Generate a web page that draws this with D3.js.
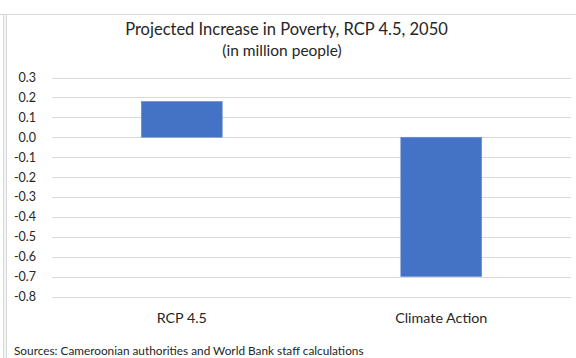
<!DOCTYPE html>
<html>
<head>
<meta charset="utf-8">
<script src="https://cdn.jsdelivr.net/npm/d3@7"></script>
<style>
  html, body { margin: 0; padding: 0; background: #fff; }
  svg { display: block; }
  text { font-family: Lato, "Noto Sans", sans-serif; fill: #262626; }
</style>
</head>
<body>
<svg id="chart" width="576" height="358"></svg>
<script>
// Projected increase in poverty (million people), RCP 4.5, 2050
const categories = ["RCP 4.5", "Climate Action"];
const values = [0.18, -0.70];
const yTicks = [0.3, 0.2, 0.1, 0.0, -0.1, -0.2, -0.3, -0.4, -0.5, -0.6, -0.7, -0.8];
const titleText = "Projected Increase in Poverty, RCP 4.5, 2050";
const subtitleText = "(in million people)";
const sourceText = "Sources: Cameroonian authorities and World Bank staff calculations";

const svg = d3.select("#chart");
const W = 576, H = 358;
const plot = { left: 52, right: 571, top: 77.5, bottom: 296.5 };

// frame lines
svg.append("line")
  .attr("x1", 0).attr("x2", W).attr("y1", 14.5).attr("y2", 14.5)
  .attr("stroke", "#d9d9d9").attr("stroke-width", 1);
svg.append("rect")
  .attr("x", 3.5).attr("y", 14.5).attr("width", 3).attr("height", H)
  .attr("fill", "#f4f4f4").attr("stroke", "#d9d9d9").attr("stroke-width", 1);

const x = d3.scaleBand()
  .domain(categories)
  .range([plot.left, plot.right])
  .paddingInner(0.688)
  .paddingOuter(0.344);

const y = d3.scaleLinear()
  .domain([-0.8, 0.3])
  .range([plot.bottom, plot.top]);

// gridlines
svg.append("g")
  .selectAll("line")
  .data(yTicks)
  .join("line")
  .attr("x1", plot.left).attr("x2", plot.right)
  .attr("y1", d => Math.round(y(d)) + 0.5).attr("y2", d => Math.round(y(d)) + 0.5)
  .attr("stroke", "#d9d9d9").attr("stroke-width", 1);

// y-axis labels (plain hyphen for negatives)
const fmt = d3.format(".1f");
const yAxis = d3.axisLeft(y).tickValues(yTicks)
  .tickFormat(d => fmt(d).replace("\u2212", "-"))
  .tickSize(0).tickPadding(0);
const gy = svg.append("g").attr("transform", "translate(36,0)").call(yAxis);
gy.select(".domain").remove();
gy.selectAll("text").attr("font-size", 12.5).style("font-family", "Lato, 'Noto Sans', sans-serif").attr("fill", "#262626");

// bars
svg.append("g")
  .selectAll("rect")
  .data(values)
  .join("rect")
  .attr("x", (d, i) => x(categories[i]))
  .attr("width", x.bandwidth())
  .attr("y", d => y(Math.max(0, d)))
  .attr("height", d => Math.abs(y(d) - y(0)))
  .attr("fill", "#4472c4")
  .attr("stroke", "#6f93d4").attr("stroke-width", 0.6);

// category labels
svg.append("g")
  .selectAll("text")
  .data(categories)
  .join("text")
  .attr("x", d => x(d) + x.bandwidth() / 2)
  .attr("y", 323)
  .attr("text-anchor", "middle")
  .attr("font-size", 14.3)
  .text(d => d);

// titles
svg.append("text")
  .attr("x", 286.5).attr("y", 35)
  .attr("text-anchor", "middle")
  .attr("font-size", 16.5)
  .text(titleText);
svg.append("text")
  .attr("x", 282).attr("y", 56)
  .attr("text-anchor", "middle")
  .attr("font-size", 15.5)
  .text(subtitleText);

// source note
svg.append("text")
  .attr("x", 14).attr("y", 355)
  .attr("font-size", 11.8)
  .text(sourceText);
</script>
</body>
</html>
